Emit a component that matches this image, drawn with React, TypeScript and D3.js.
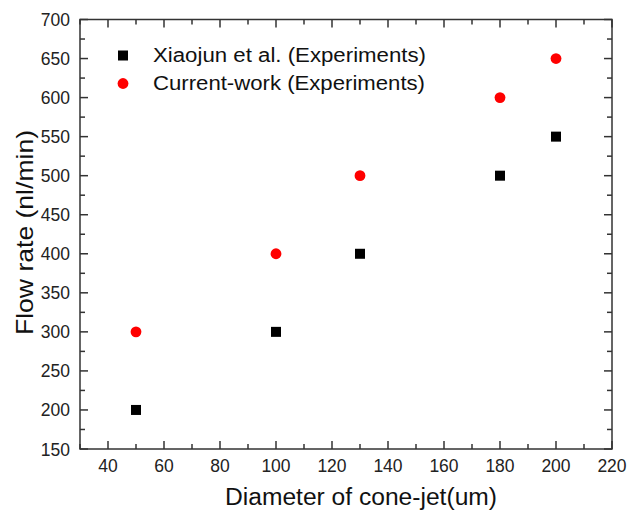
import React from "react";
import * as d3 from "d3";

const xDiam = [50, 100, 130, 180, 200];
const xiaojun = [200, 300, 400, 500, 550];
const current = [300, 400, 500, 600, 650];
const xTicks = [40, 60, 80, 100, 120, 140, 160, 180, 200, 220];
const yTicks = [150, 200, 250, 300, 350, 400, 450, 500, 550, 600, 650, 700];
const legendLabels = ["Xiaojun et al. (Experiments)", "Current-work (Experiments)"];

export default function App() {
  const W = 627, H = 510;
  const L = 80, R = 612, T = 19.5, B = 449;
  const x = d3.scaleLinear().domain([30, 220]).range([L, R]);
  const y = d3.scaleLinear().domain([150, 700]).range([B, T]);
  const minorX = d3.range(30, 221, 10).filter((v) => v % 20 !== 0);
  const minorY = d3.range(175, 700, 50);
  const axisColor = "#333";
  const font = "Arial, 'Liberation Sans', sans-serif";
  const major = 8, minor = 5;
  return (
    <svg width={W} height={H} style={{ position: "absolute", left: 0, top: 0 }} fontFamily={font}>
      <rect width={W} height={H} fill="#fff" />
      {xTicks.map((v) => (
        <g key={"xt" + v}>
          <line x1={x(v)} x2={x(v)} y1={B} y2={B - major} stroke={axisColor} strokeWidth={1.5} />
          <line x1={x(v)} x2={x(v)} y1={T} y2={T + major} stroke={axisColor} strokeWidth={1.5} />
          <text x={x(v)} y={472} textAnchor="middle" fontSize={17.5} fill="#222">{v}</text>
        </g>
      ))}
      {minorX.map((v) => (
        <g key={"xm" + v}>
          <line x1={x(v)} x2={x(v)} y1={B} y2={B - minor} stroke={axisColor} strokeWidth={1.5} />
          <line x1={x(v)} x2={x(v)} y1={T} y2={T + minor} stroke={axisColor} strokeWidth={1.5} />
        </g>
      ))}
      {yTicks.map((v) => (
        <g key={"yt" + v}>
          <line x1={L} x2={L + major} y1={y(v)} y2={y(v)} stroke={axisColor} strokeWidth={1.5} />
          <line x1={R} x2={R - major} y1={y(v)} y2={y(v)} stroke={axisColor} strokeWidth={1.5} />
          <text x={L - 10} y={y(v) + 6.5} textAnchor="end" fontSize={17.5} fill="#222">{v}</text>
        </g>
      ))}
      {minorY.map((v) => (
        <g key={"ym" + v}>
          <line x1={L} x2={L + minor} y1={y(v)} y2={y(v)} stroke={axisColor} strokeWidth={1.5} />
          <line x1={R} x2={R - minor} y1={y(v)} y2={y(v)} stroke={axisColor} strokeWidth={1.5} />
        </g>
      ))}
      <rect x={L} y={T} width={R - L} height={B - T} fill="none" stroke={axisColor} strokeWidth={1.5} />
      {xDiam.map((d, i) => (
        <rect key={"s" + i} x={x(d) - 5} y={y(xiaojun[i]) - 5} width={10} height={10} fill="#000" />
      ))}
      {xDiam.map((d, i) => (
        <circle key={"c" + i} cx={x(d)} cy={y(current[i])} r={5.4} fill="#ff0000" />
      ))}
      <rect x={118} y={50.5} width={10} height={10} fill="#000" />
      <text x={153} y={62} fontSize={19.5} fill="#111" textLength={273} lengthAdjust="spacingAndGlyphs">{legendLabels[0]}</text>
      <circle cx={123} cy={83.5} r={5.4} fill="#ff0000" />
      <text x={153} y={90} fontSize={19.5} fill="#111" textLength={272} lengthAdjust="spacingAndGlyphs">{legendLabels[1]}</text>
      <text x={225} y={505} fontSize={23} fill="#111" textLength={272} lengthAdjust="spacingAndGlyphs">Diameter of cone-jet(um)</text>
      <text transform={`translate(33, 335) rotate(-90)`} fontSize={24.5} fill="#111" textLength={205} lengthAdjust="spacingAndGlyphs">Flow rate (nl/min)</text>
    </svg>
  );
}
